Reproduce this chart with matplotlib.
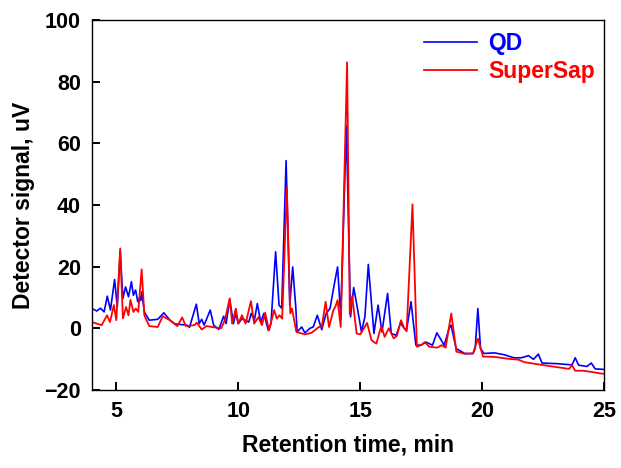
import matplotlib
matplotlib.use("Agg")
import matplotlib.pyplot as plt

# QD (blue) trace: key points (retention time, min ; signal, uV)
qd_t = [4.0, 4.2, 4.35, 4.5, 4.63, 4.76, 4.93, 5.04, 5.16, 5.27, 5.38, 5.5, 5.62, 5.7, 5.79, 5.88,
        5.96, 6.0, 6.04, 6.15, 6.35, 6.7, 6.95, 7.2, 7.4, 7.9, 8.0, 8.28, 8.4, 8.5, 8.6, 8.85,
        8.99, 9.2, 9.4, 9.5, 9.65, 9.8, 9.9, 10.0, 10.15, 10.43, 10.53, 10.66, 10.78, 10.92,
        11.05, 11.23, 11.34, 11.53, 11.67, 11.78, 11.96, 12.11, 12.23, 12.36, 12.41, 12.6,
        12.73, 12.94, 13.07, 13.24, 13.42, 13.6, 13.76, 13.94, 14.07, 14.2, 14.43, 14.6,
        14.73, 14.85, 15.05, 15.19, 15.33, 15.56, 15.73, 15.89, 16.12, 16.27, 16.47, 16.65,
        16.8, 16.9, 17.08, 17.28, 17.49, 17.69, 17.96, 18.14, 18.44, 18.64, 18.72, 18.93,
        19.28, 19.62, 19.71, 19.82, 19.93, 20.07, 20.5, 20.9, 21.3, 21.6, 21.9, 22.1, 22.3,
        22.45, 23.06, 23.68, 23.81, 23.95, 24.29, 24.47, 24.63, 24.86, 25.0]
qd_y = [6.4, 5.6, 6.5, 5.3, 10.4, 5.9, 15.8, 6.9, 25.0, 9.7, 13.4, 10.2, 15.1, 10.7, 12.4, 8.6,
        10.0, 9.0, 11.8, 5.3, 2.6, 2.9, 5.0, 2.6, 1.4, 1.0, 0.3, 7.8, 1.5, 2.9, 1.0, 5.9,
        1.0, -0.4, 3.9, 1.5, 9.3, 1.5, 4.8, 1.5, 3.1, 2.0, 4.8, 2.6, 8.0, 2.0,
        4.8, -0.7, 1.5, 24.8, 7.5, 6.5, 54.4, 7.5, 19.9, 6.4, -1.2, 0.4,
        -1.5, 0.0, 0.4, 4.2, -0.5, 4.8, 6.4, 14.5, 19.9, 3.7, 65.7, 3.7,
        13.2, 8.0, -1.2, 3.7, 20.7, -1.7, 7.5, -1.2, 11.3, -1.7, -2.3, 1.7,
        0.0, -0.5, 8.6, -5.5, -5.5, -4.5, -5.5, -1.5, -5.5, -0.1, 1.0, -6.6,
        -8.2, -8.2, -6.6, 6.4, -6.6, -8.2, -8.0, -8.6, -9.6, -9.6, -8.9, -10.1, -8.4,
        -11.3, -11.5, -11.9, -9.6, -12.0, -12.4, -11.3, -13.2, -13.3, -13.4]

# SuperSap (red) trace: key points
ss_t = [4.0, 4.4, 4.62, 4.74, 4.9, 5.0, 5.16, 5.27, 5.4, 5.5, 5.58, 5.7, 5.8, 5.9, 6.04, 6.15,
        6.35, 6.7, 6.9, 7.2, 7.5, 7.7, 7.85, 8.2, 8.3, 8.5, 8.7, 9.0, 9.3, 9.45, 9.65, 9.75,
        9.9, 10.0, 10.15, 10.3, 10.52, 10.65, 10.83, 10.97, 11.1, 11.26, 11.47, 11.58, 11.69,
        11.8, 11.99, 12.13, 12.2, 12.38, 12.73, 13.0, 13.3, 13.42, 13.58, 13.72, 13.9, 13.98,
        14.07, 14.2, 14.46, 14.57, 14.67, 14.85, 15.0, 15.28, 15.46, 15.66, 15.86, 16.0,
        16.17, 16.37, 16.5, 16.67, 16.8, 16.9, 17.14, 17.32, 17.49, 17.65, 17.82, 18.16,
        18.33, 18.5, 18.73, 18.94, 19.28, 19.62, 19.82, 20.03, 20.5, 20.77, 21.04, 21.48,
        21.72, 22.27, 22.95, 23.56, 23.68, 23.81, 24.15, 24.49, 24.86, 25.0]
ss_y = [2.0, 1.0, 4.2, 2.0, 7.5, 2.6, 25.9, 3.2, 6.9, 4.2, 9.2, 5.3, 6.4, 5.3, 19.1, 4.2,
        0.7, 0.4, 3.9, 2.6, 0.7, 3.5, 0.7, 1.0, 1.8, -0.4, 0.7, 0.3, 0.0, 2.6, 9.7, 1.5,
        6.4, 1.5, 4.2, 1.5, 8.8, 1.5, 3.6, 1.0, 5.0, -0.7, 5.9, 3.1, 4.2,
        3.1, 45.7, 4.8, 6.4, -1.2, -2.0, -1.5, 0.4, 0.4, 8.6, 0.4, 5.9, 7.0,
        9.1, 0.4, 86.3, 4.6, 10.4, -1.7, -2.0, 1.7, -3.9, -5.0, 0.7, -2.8,
        0.0, -3.3, -2.5, 2.6, 0.0, -1.0, 40.2, -6.0, -5.5, -4.5, -6.0, -6.3,
        -5.5, -6.3, 4.8, -7.6, -8.3, -8.2, -3.4, -9.2, -9.3, -9.6, -9.9, -10.2,
        -11.0, -11.7, -12.5, -13.2, -12.0, -13.8, -13.8, -14.2, -14.7, -14.8]

series_names = ["QD", "SuperSap"]
series_colors = ["#0000FF", "#FF0000"]

x_ticks = [5, 10, 15, 20, 25]
y_ticks = [-20, 0, 20, 40, 60, 80, 100]

plt.rcParams['font.family'] = ['Liberation Sans', 'DejaVu Sans']
plt.rcParams['font.weight'] = 'bold'

fig = plt.figure(figsize=(6.21, 4.68), dpi=100)
ax = fig.add_axes([0.148, 0.167, 0.825, 0.790])

ax.plot(qd_t, qd_y, color=series_colors[0], lw=1.2, label=series_names[0])
ax.plot(ss_t, ss_y, color=series_colors[1], lw=1.3, label=series_names[1])

ax.set_xlim(4, 25)
ax.set_ylim(-20, 100)
ax.set_xticks(x_ticks)
ax.set_yticks(y_ticks)
ax.tick_params(direction='in', length=6, width=1.4, labelsize=15.5, pad=8,
               top=False, right=False)
for lab in ax.get_xticklabels() + ax.get_yticklabels():
    lab.set_fontweight('bold')
for sp in ax.spines.values():
    sp.set_linewidth(1.0)

ax.set_xlabel("Retention time, min", fontsize=16.5, fontweight='bold', labelpad=8)
ax.set_ylabel("Detector signal, uV", fontsize=16.5, fontweight='bold', labelpad=7)

leg = ax.legend(loc='upper right', bbox_to_anchor=(1.0, 0.992), frameon=False,
                fontsize=16.5, handlelength=2.3, handletextpad=0.5,
                labelspacing=0.2, borderaxespad=0.0)
for txt, col in zip(leg.get_texts(), series_colors):
    txt.set_color(col)
    txt.set_fontweight('bold')

fig.savefig("out.png", dpi=100)
